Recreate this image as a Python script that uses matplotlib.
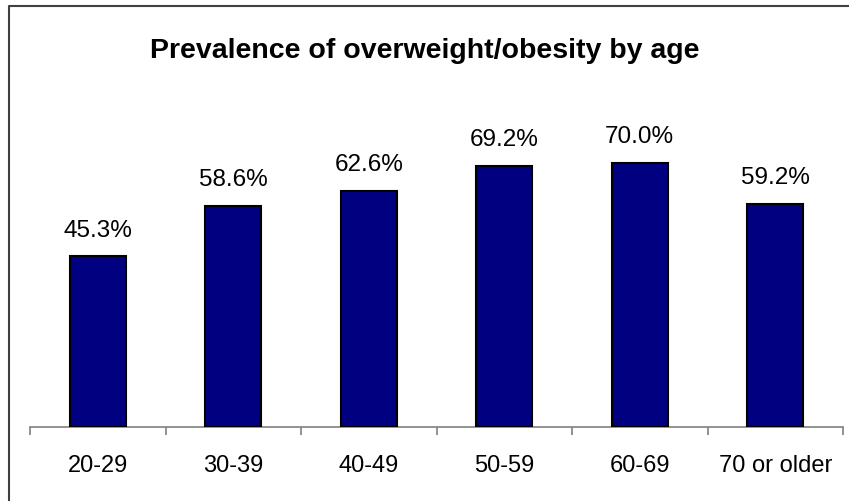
import matplotlib
matplotlib.use("Agg")
import matplotlib.pyplot as plt
from matplotlib.lines import Line2D

categories = ["20-29", "30-39", "40-49", "50-59", "60-69", "70 or older"]
values = [45.3, 58.6, 62.6, 69.2, 70.0, 59.2]
title = "Prevalence of overweight/obesity by age"

plt.rcParams['font.family'] = ['Liberation Sans', 'DejaVu Sans']

W, H = 849, 501
fig = plt.figure(figsize=(W / 100, H / 100), dpi=100)
ax = fig.add_axes([30 / W, (H - 427) / H, 813 / W, 302 / H])

x = list(range(len(categories)))
ax.bar(x, values, width=0.41, color="#000080", edgecolor="black", linewidth=1.5, zorder=3)
ax.set_xlim(-0.5, len(categories) - 0.5)
ax.set_ylim(0, 80)

for xi, v in zip(x, values):
    ax.annotate(f"{v:.1f}%", (xi, v), xytext=(0, 14), textcoords="offset points",
                ha="center", va="baseline", fontsize=17.5)

for s in ["top", "right", "left"]:
    ax.spines[s].set_visible(False)
ax.spines["bottom"].set_color("#808080")
ax.spines["bottom"].set_linewidth(1.2)
ax.set_yticks([])
ax.set_xticks(x)
ax.set_xticklabels(categories, fontsize=17)
ax.tick_params(axis="x", which="major", length=0, pad=20)
ax.set_xticks([i - 0.5 for i in range(len(categories) + 1)], minor=True)
ax.tick_params(axis="x", which="minor", length=6, width=1.2, color="#808080", direction="out")

fig.text(0.5, 1 - 51 / H, title, ha="center", va="center", fontsize=20.5, fontweight="bold")

# figure border (left and top visible)
fig.add_artist(Line2D([8.5 / W, 8.5 / W, 1.0], [0, 1 - 5.5 / H, 1 - 5.5 / H],
                      transform=fig.transFigure, color="#404040", linewidth=1.5))

fig.savefig("out.png", dpi=100)
